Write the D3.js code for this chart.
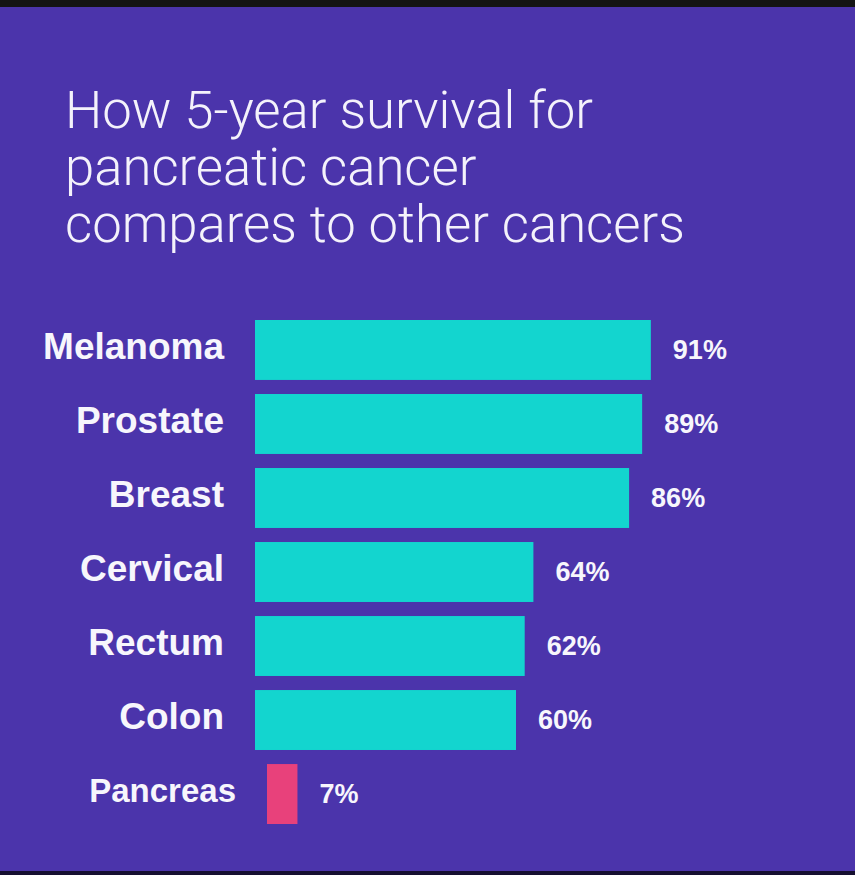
<!DOCTYPE html>
<html>
<head>
<meta charset="utf-8">
<script src="https://cdn.jsdelivr.net/npm/d3@7"></script>
<style>
  html, body { margin: 0; padding: 0; background: #4b34ab; }
  svg { display: block; }
</style>
</head>
<body>
<svg width="855" height="875"></svg>
<script>
/**
 * 5-year survival, pancreas vs other cancers
 */
var cancers = ["Melanoma", "Prostate", "Breast", "Cervical", "Rectum", "Colon", "Pancreas"];
var survival = [91, 89, 86, 64, 62, 60, 7];
var valueLabels = ["91%", "89%", "86%", "64%", "62%", "60%", "7%"];
var titleLines = ["How 5-year survival for", "pancreatic cancer", "compares to other cancers"];
var highlight = "Pancreas";

var svg = d3.select("svg");

// background + the dark strips top and bottom of the screenshot
svg.append("rect").attr("width", 855).attr("height", 875).style("fill", "#4b34ab");
svg.append("rect").attr("width", 855).attr("height", 7).style("fill", "#141414");
svg.append("rect").attr("y", 871).attr("width", 855).attr("height", 4).style("fill", "#150f30");

/**
 * title, fitted to the width of the longest line
 */
var title = svg.append("g").attr("class", "title");
var titleText = title.selectAll("text")
    .data(titleLines)
  .enter().append("text")
    .attr("x", 65)
    .attr("y", function(d, i) { return 128 + i * 57; })
    .style("font-family", "Roboto, 'Liberation Sans', sans-serif")
    .style("font-weight", 300)
    .style("font-size", "52px")
    .style("fill", "#f4f2fb")
    .text(function(d) { return d; });

var widest = d3.max(titleText.nodes(), function(n) { return n.getComputedTextLength(); });
titleText.style("font-size", (52 * 620 / widest) + "px");

/**
 * scales
 */
var x = d3.scaleLinear().domain([0, 100]).range([0, 435]);
var y = d3.scaleBand().domain(cancers).range([320, 824]).paddingInner(0.19).paddingOuter(0);

var left = 255;
function shift(d) { return d === highlight ? 12 : 0; }

var rows = svg.selectAll("g.row")
    .data(cancers)
  .enter().append("g")
    .attr("class", "row")
    .attr("transform", function(d) { return "translate(" + (left + shift(d)) + "," + y(d) + ")"; });

rows.append("rect")
    .attr("x", 0)
    .attr("y", 0)
    .attr("width", function(d, i) { return x(survival[i]); })
    .attr("height", y.bandwidth())
    .style("fill", function(d) { return d === highlight ? "#e8417b" : "#13d5cf"; });

rows.append("text")
    .attr("x", -31)
    .attr("y", y.bandwidth() / 2 - 4)
    .attr("dy", "0.35em")
    .attr("text-anchor", "end")
    .style("font-family", "'Liberation Sans', Arial, sans-serif")
    .style("font-weight", "bold")
    .style("font-size", function(d) { return d === highlight ? "33px" : "37px"; })
    .style("fill", "#f7f6fc")
    .text(function(d) { return d; });

rows.append("text")
    .attr("x", function(d, i) { return x(survival[i]) + 22; })
    .attr("y", y.bandwidth() / 2)
    .attr("dy", "0.35em")
    .style("font-family", "'Liberation Sans', Arial, sans-serif")
    .style("font-weight", "bold")
    .style("font-size", "27px")
    .style("fill", "#f7f6fc")
    .text(function(d, i) { return valueLabels[i]; });
</script>
</body>
</html>
